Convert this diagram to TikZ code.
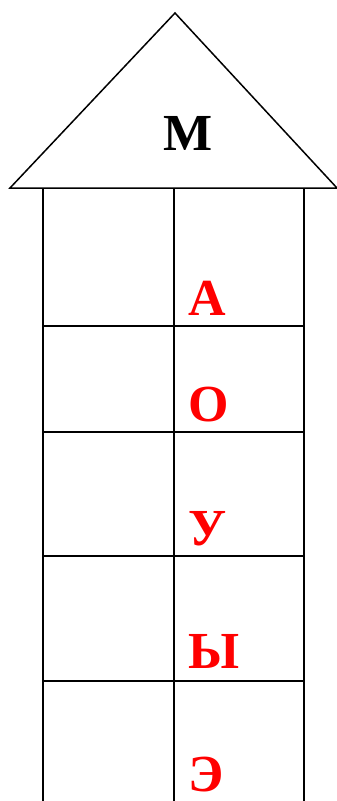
\documentclass[tikz,border=0pt]{standalone}
\usepackage{fontspec}
\setmainfont{Liberation Serif}
\usetikzlibrary{positioning}
\definecolor{ink}{HTML}{000000}
\definecolor{vowel}{HTML}{FF0000}
\tikzset{wall/.style={draw=ink,line width=1.8pt},roof/.style={draw=ink,line width=1.5pt,line join=miter},
  cons/.style={font=\fontsize{52}{52}\selectfont\bfseries,text=ink,inner sep=0pt,anchor=base west},
  vow/.style={font=\fontsize{52}{52}\selectfont\bfseries,text=vowel,inner sep=0pt,anchor=base west}}

\begin{document}
\begin{tikzpicture}[x=1pt,y=-1pt]
\useasboundingbox (0,0) rectangle (337,801);
\coordinate (apex) at (175,13);\coordinate (eaveL) at (10,188);\coordinate (eaveR) at (337,188);
\draw[roof] (eaveL)--(apex)--(eaveR)--cycle;
\node[cons] (m) at (163,150) {М};
% house columns and floors
\foreach \x in {43,174,304} \draw[wall] (\x,188)--(\x,801);
\foreach \y in {326,432,556,681} \draw[wall] (43,\y)--(304,\y);
\node[vow] (a) at (188,315) {А};
\node[vow] (o) at (188,421) {О};
\node[vow] (u) at (188,545) {У};
\node[vow] (y) at (188,668) {Ы};
\node[vow] (e) at (188,791) {Э};
\end{tikzpicture}
\end{document}
